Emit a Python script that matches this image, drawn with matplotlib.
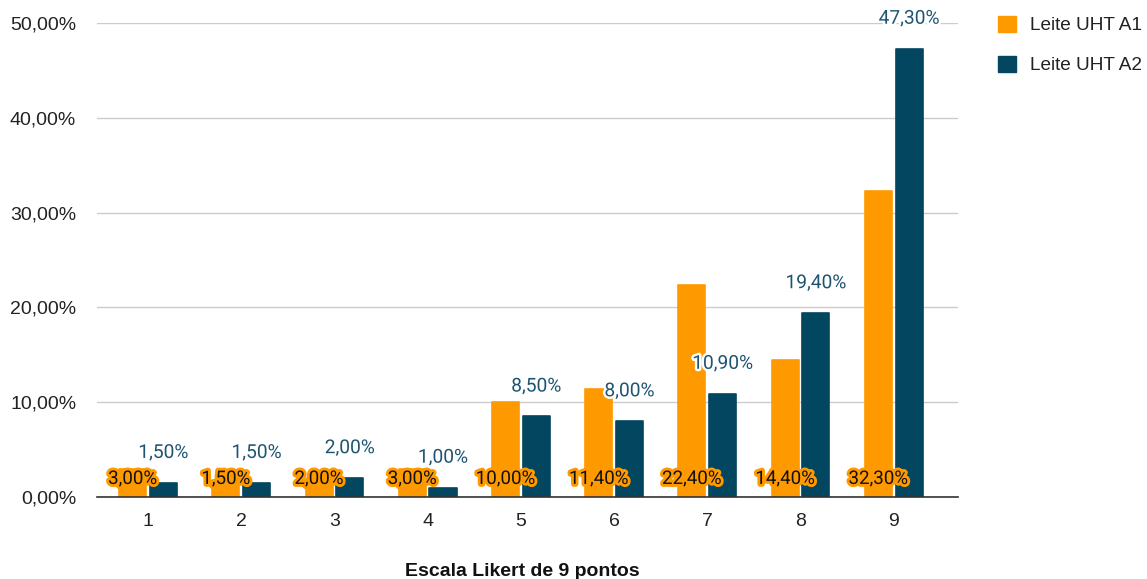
import matplotlib
matplotlib.use("Agg")
import matplotlib.pyplot as plt
import matplotlib.patheffects as pe
from matplotlib.patches import Patch
import numpy as np

categories = ["1", "2", "3", "4", "5", "6", "7", "8", "9"]
a1_values = [3.00, 1.50, 2.00, 3.00, 10.00, 11.40, 22.40, 14.40, 32.30]
a2_values = [1.50, 1.50, 2.00, 1.00, 8.50, 8.00, 10.90, 19.40, 47.30]
series_names = ["Leite UHT A1", "Leite UHT A2"]
y_ticks = [0, 10, 20, 30, 40, 50]
x_title = "Escala Likert de 9 pontos"

ORANGE = "#FF9900"
BLUE = "#02465F"
LABEL_BLUE = "#1E5470"


def pct(v):
    return f"{v:.2f}".replace(".", ",") + "%"


fig = plt.figure(figsize=(11.47, 5.79), dpi=100)
ax = fig.add_axes([97 / 1147, 1 - 497 / 579, (958 - 97) / 1147, (497 - 23) / 579])

x = np.arange(len(categories))
w = 0.29
off = 0.165
bars1 = ax.bar(x - off, a1_values, w, color=ORANGE, edgecolor=ORANGE,
               linewidth=1.2, joinstyle="round", zorder=3)
bars2 = ax.bar(x + off, a2_values, w, color=BLUE, edgecolor=BLUE,
               linewidth=1.2, joinstyle="round", zorder=3)

ax.set_xlim(-0.547, 8.69)
ax.set_ylim(0, 50)
ax.set_yticks(y_ticks)
ax.set_yticklabels([pct(v) for v in y_ticks], fontfamily="Liberation Sans",
                   fontsize=14, color="#222222")
ax.set_xticks(x)
ax.set_xticklabels(categories, fontfamily="Liberation Sans", fontsize=14,
                   color="#222222")
ax.tick_params(axis="both", length=0)
ax.tick_params(axis="y", pad=15)
ax.tick_params(axis="x", pad=11.5)

ax.grid(axis="y", color="#CCCCCC", linewidth=1, zorder=0)
for s in ["left", "right", "top"]:
    ax.spines[s].set_visible(False)
ax.spines["bottom"].set_color("#333333")
ax.spines["bottom"].set_linewidth(1.2)
ax.spines["bottom"].set_zorder(4)

# A1 labels sit at the foot of each orange bar
for xi, v in zip(x, a1_values):
    ax.annotate(pct(v), (xi - off, 0), xytext=(0, 13), textcoords="offset points",
                ha="center", va="center", fontfamily="Roboto", fontsize=13.5,
                color="#111111", zorder=5,
                path_effects=[pe.withStroke(linewidth=4.2, foreground=ORANGE)])

# A2 labels float above each blue bar
for xi, v in zip(x, a2_values):
    ax.annotate(pct(v), (xi + off, v), xytext=(0, 21.5), textcoords="offset points",
                ha="center", va="center", fontfamily="Roboto", fontsize=13.8,
                color=LABEL_BLUE, zorder=5, annotation_clip=False,
                path_effects=[pe.withStroke(linewidth=3.5, foreground="white")])

fig.text(522 / 1147, 1 - 571 / 579, x_title, ha="center", va="center",
         fontfamily="Liberation Sans", fontsize=14, fontweight="bold", color="#111111")

handles = [Patch(facecolor=ORANGE, edgecolor=ORANGE),
           Patch(facecolor=BLUE, edgecolor=BLUE)]
leg = fig.legend(handles, series_names, loc="upper left",
                 bbox_to_anchor=(990 / 1147, 1 - 8 / 579), frameon=False,
                 prop={"family": "Liberation Sans", "size": 13.7},
                 handlelength=0.95, handleheight=0.95, handletextpad=0.75,
                 labelspacing=1.12, borderaxespad=0)
for t in leg.get_texts():
    t.set_color("#222222")

fig.savefig("out.png", dpi=100)
